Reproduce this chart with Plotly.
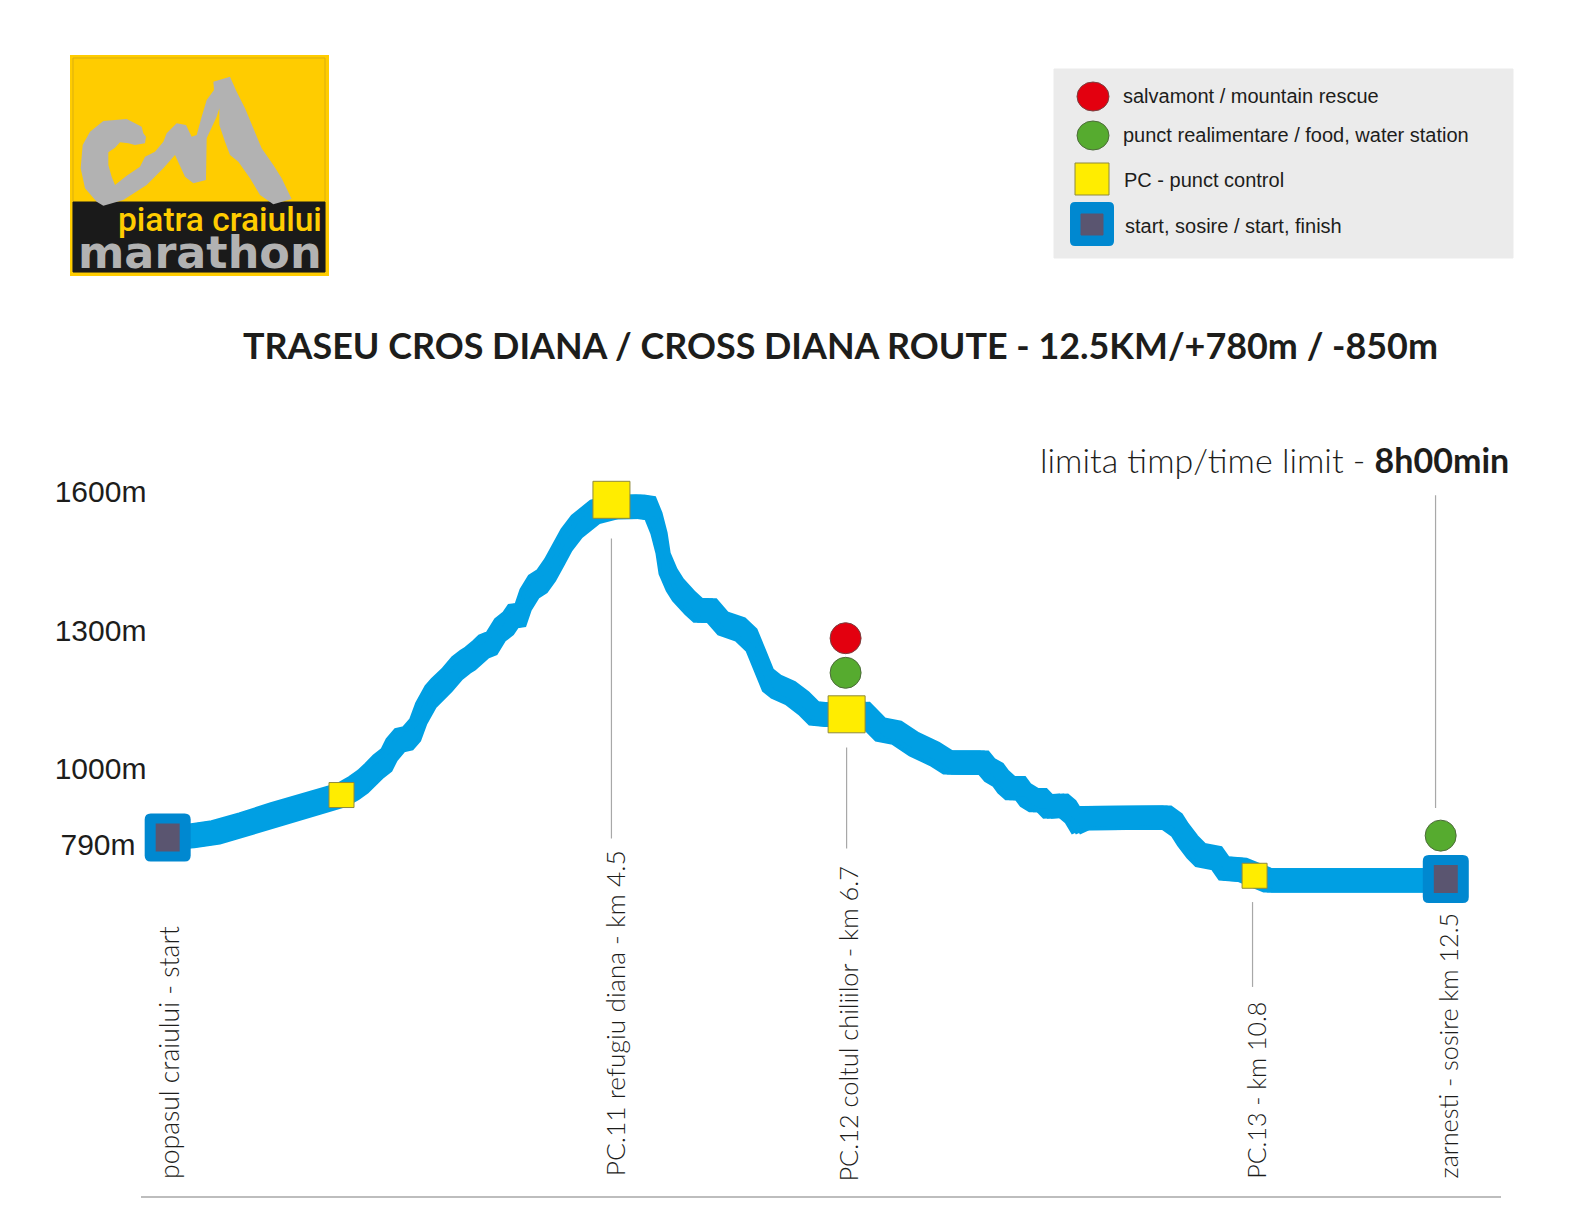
import numpy as np
import plotly.graph_objects as go

W, H = 1584, 1224

# route profile, km along the trail and height in metres (the source is not to scale)
route_km = [0, .22, .47, .74, 1.05, 1.32, 1.58, 1.70, 1.82, 1.91, 1.98, 2.06, 2.14, 2.19, 2.27, 2.35, 2.42, 2.48,
            2.57, 2.63, 2.73, 2.83, 2.91, 2.96, 3.04, 3.09, 3.17, 3.25, 3.33, 3.38, 3.45, 3.50, 3.58, 3.66, 3.74,
            3.82, 3.90, 4.00, 4.18, 4.36, 4.62, 4.72, 4.78, 4.83, 4.86, 4.93, 4.99, 5.11, 5.19, 5.32, 5.43, 5.60,
            5.71, 5.79, 5.87, 5.95, 6.09, 6.22, 6.32, 6.47, 6.82, 6.97, 7.13, 7.30, 7.50, 7.63, 7.85, 7.98, 8.04,
            8.12, 8.17, 8.24, 8.34, 8.39, 8.47, 8.55, 8.61, 8.76, 8.83, 8.89, 8.97, 9.77, 9.87, 9.93, 10.02, 10.10,
            10.26, 10.33, 10.51, 10.76, 12.51]
route_elev = [851, 854, 862, 879, 901, 918, 935, 943, 958, 972, 987, 1005, 1019, 1041, 1062, 1066, 1084, 1120,
              1156, 1171, 1192, 1218, 1232, 1239, 1254, 1265, 1272, 1301, 1315, 1331, 1333, 1366, 1395, 1406, 1431,
              1463, 1496, 1525, 1557, 1567, 1568, 1565, 1532, 1489, 1445, 1409, 1388, 1359, 1343, 1343, 1315, 1302,
              1279, 1236, 1192, 1178, 1164, 1142, 1120, 1117, 1119, 1085, 1078, 1053, 1032, 1014, 1013, 1013, 997,
              987, 972, 958, 958, 943, 932, 932, 918, 920, 907, 885, 893, 894, 878, 857, 831, 813,
              806, 784, 781, 758, 758]
band_m = 22  # the stroke has a constant vertical thickness
pen_km = 0.04  # and a little width, which shows on the steep parts

# control points
pc_km = [1.70, 10.63, 4.34, 6.64]
pc_elev = [943, 768, 1583, 1118]
pc_size = [25, 25, 37, 37]
end_km = [0, 12.5]
end_elev = [851, 761]
rescue_km = [6.63]
rescue_elev = [1283]
food_km = [6.63, 12.45]
food_elev = [1208, 855]

# leader lines
leader_km = [4.34, 6.64, 10.61, 12.40]
leader_top = [1499, 1046, 711, 1593]
leader_bottom = [849, 827, 527, 915]

# rotated place labels
place_names = ["popasul craiului - start", "PC.11 refugiu diana - km 4.5", "PC.12 coltul chiliilor - km 6.7",
               "PC.13 - km 10.8", "zarnesti - sosire km 12.5"]
place_km = [.01, 4.37, 6.65, 10.65, 12.52]
place_elev = [107, 111, 101, 107, 107]
place_font = [26.5, 26.4, 25.4, 25, 25.2]

tick_vals = [836, 1000, 1300, 1600]
tick_text = ["790m\u00a0\u200a", "1000m", "1300m", "1600m"]

legend_names = ["salvamont / mountain rescue", "punct realimentare / food, water station",
                "PC - punct control", "start, sosire / start, finish"]

# logo outline, in logo crop pixels (3x)
logo_x = [110, 75, 62, 68, 90, 130, 200, 225, 245, 250, 258, 255, 225, 205, 180, 165, 145, 145, 155, 165, 200,
          240, 255, 285, 310, 320, 350, 378, 395, 410, 425, 440, 462, 460, 510, 530, 555, 580, 605, 640, 665,
          695, 640, 600, 570, 535, 510, 495, 478, 478, 470, 440, 438, 400, 375, 345, 310, 260, 190, 130]
logo_y = [470, 430, 370, 300, 260, 228, 222, 235, 245, 265, 275, 295, 300, 295, 292, 308, 322, 360, 395, 420, 392,
          365, 335, 320, 290, 265, 235, 240, 275, 270, 215, 165, 135, 110, 95, 140, 190, 250, 310, 360, 400,
          462, 478, 450, 400, 350, 330, 290, 240, 190, 215, 280, 405, 415, 395, 330, 370, 420, 465, 482]


def fx(p):
    return p / W


def fy(p):
    return 1 - p / H


def box(x0, y0, x1, y1, fill, line=None, kind="rect", lw=1):
    return dict(type=kind, xref="paper", yref="paper", x0=fx(x0), x1=fx(x1), y0=fy(y0), y1=fy(y1),
                fillcolor=fill, line=dict(color=line or fill, width=lw), layer="below")


def round_path(w, h, r):
    # rounded rectangle round 0,0
    a, b = w / 2, h / 2
    return (f"M {-a+r} {b} L {a-r} {b} Q {a} {b} {a} {b-r} L {a} {-b+r} Q {a} {-b} {a-r} {-b} "
            f"L {-a+r} {-b} Q {-a} {-b} {-a} {-b+r} L {-a} {b-r} Q {-a} {b} {-a+r} {b} Z")


def badge(w, h, r, fill, line_width=0, **anchor):
    # pixel sized shape pinned to a spot, so rounded corners are possible
    return dict(type="path", xsizemode="pixel", ysizemode="pixel", path=round_path(w, h, r), fillcolor=fill,
                line=dict(width=line_width), **anchor)


def text(x, y, s, size, color="#1d1d1b", family="Liberation Sans", anchor="left", weight=None):
    font = dict(size=size, color=color, family=family)
    if weight:
        font["weight"] = weight
    return dict(xref="paper", yref="paper", x=fx(x), y=fy(y), text=s, showarrow=False, xanchor=anchor,
                yanchor="middle", font=font)


fig = go.Figure()

# route band, drawn three times side by side to get the pen width
km = np.array(route_km)
elev = np.array(route_elev)
for shift in [-pen_km, 0, pen_km]:
    fig.add_trace(go.Scatter(x=np.concatenate([km + shift, km[::-1] + shift]),
                             y=np.concatenate([elev + band_m, (elev - band_m)[::-1]]),
                             mode="lines", fill="toself", fillcolor="#009fe3", line=dict(width=4, color="#009fe3"),
                             hoverinfo="skip"))

for k, top, bottom in zip(leader_km, leader_top, leader_bottom):
    fig.add_trace(go.Scatter(x=[k, k], y=[top, bottom], mode="lines", line=dict(color="#a8a8a8", width=1.2),
                             hoverinfo="skip"))

fig.add_trace(go.Scatter(x=pc_km, y=pc_elev, mode="markers",
                         marker=dict(symbol="square", size=pc_size, color="#ffed00", opacity=1,
                                     line=dict(color="#8f8a3c", width=1))))
fig.add_trace(go.Scatter(x=rescue_km, y=rescue_elev, mode="markers",
                         marker=dict(size=31, color="#e3000f", line=dict(color="#7a4040", width=1))))
fig.add_trace(go.Scatter(x=food_km, y=food_elev, mode="markers",
                         marker=dict(size=31, color="#56ab2f", line=dict(color="#4d6b3a", width=1))))

shapes = []
# start and finish
for k, e in zip(end_km, end_elev):
    pin = dict(xref="x", yref="y", xanchor=k, yanchor=e, layer="above")
    shapes.append(badge(46, 48, 6, "#0088d0", **pin))
    shapes.append(badge(24, 28, 0.01, "#5a5570", **pin))
# logo
shapes.append(box(70, 55, 329, 276, "#ffcc00", "#f7c715", lw=0))
shapes.append(box(73, 58, 325, 272, "#ffcc00", "#d9ae10", lw=1))
shapes.append(box(73, 202, 325, 272, "#1a1a1a"))
pts = [(fx(60 + a / 3), fy(45 + b / 3)) for a, b in zip(logo_x, logo_y)]
shapes.append(dict(type="path", xref="paper", yref="paper", fillcolor="#b2b2b2", line=dict(width=0), layer="below",
                   path="M " + " L ".join(f"{a} {b}" for a, b in pts) + " Z"))
# legend panel
shapes.append(box(1054, 69, 1513, 258, "#ebebeb"))
shapes.append(box(1077, 82, 1109, 111, "#e3000f", "#7a4040", kind="circle"))
shapes.append(box(1077, 121, 1109, 150, "#56ab2f", "#4d6b3a", kind="circle"))
shapes.append(box(1075, 163, 1109, 195, "#ffed00", "#8f8a3c"))
shapes.append(dict(type="path", xref="paper", yref="paper", xsizemode="pixel", ysizemode="pixel",
                   xanchor=fx(1092), yanchor=fy(224), path=round_path(44, 44, 5), fillcolor="#0088d0",
                   line=dict(width=0), layer="below"))
shapes.append(box(1081, 214, 1103, 235, "#5a5570"))

annotations = [
    text(324, 219, "piatra craiului", 33.5, color="#ffcc00", family="Roboto", anchor="right", weight=500),
    text(200, 253, "<b>marathon</b>", 44.5, color="#b2b2b2", family="DejaVu Sans", anchor="center"),
    text(1121, 96, legend_names[0], 20),
    text(1121, 135, legend_names[1], 20),
    text(1122, 180, legend_names[2], 20),
    text(1123, 226, legend_names[3], 20),
    text(840, 345, "<b>TRASEU CROS DIANA / CROSS DIANA ROUTE - 12.5KM/+780m / -850m</b>", 35.9, family="Lato", anchor="center"),
    text(1511, 459, "limita timp/time limit - <b>8h00min</b>", 34, family="Lato", anchor="right", weight=300),
]
for name, k, e, size in zip(place_names, place_km, place_elev, place_font):
    annotations.append(dict(x=k, y=e, xref="x", yref="y", text=name, showarrow=False, textangle=-90,
                            xanchor="center", yanchor="bottom",
                            font=dict(size=size, color="#1d1d1b", family="Lato", weight=300)))

fig.update_layout(
    width=W,
    height=H,
    margin=dict(l=0, r=0, t=0, b=0),
    paper_bgcolor="white",
    plot_bgcolor="white",
    showlegend=False,
    shapes=shapes,
    annotations=annotations,
    xaxis=dict(domain=[141.4 / W, 1501 / W], range=[-0.257, 13.04], showgrid=False, zeroline=False,
               showticklabels=False, ticks="", showline=True, linecolor="#bdbdbd", linewidth=2),
    yaxis=dict(domain=[1 - 1196 / H, 1 - 444.5 / H], range=[73.8, 1702.9], showgrid=False, zeroline=False,
               tickmode="array", tickvals=tick_vals, ticktext=tick_text, ticks="", showline=False,
               ticklabelstandoff=-6, tickfont=dict(size=30, color="#1d1d1b", family="Liberation Sans")),
)

fig.write_html("out.html", config=dict(displayModeBar=False), post_script="document.body.style.margin='0';")
